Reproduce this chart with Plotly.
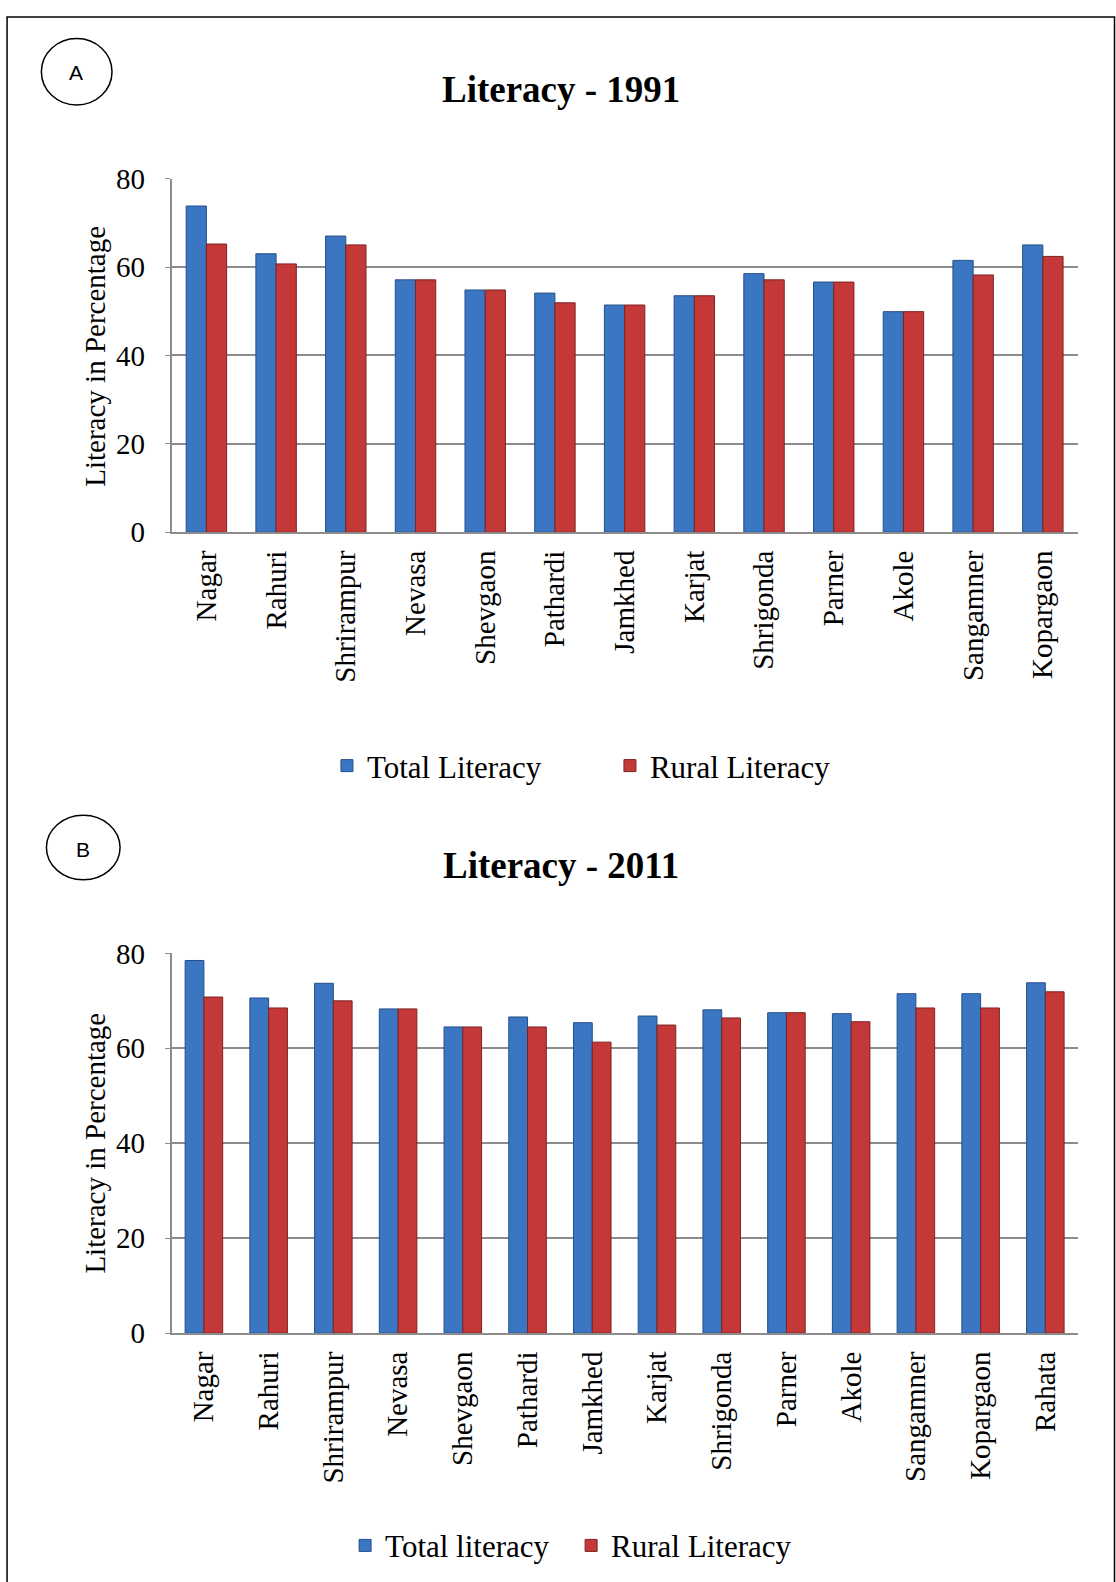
import plotly.graph_objects as go

W, H = 1116, 1582

# ---- data ----
blocks_1991 = ["Nagar", "Rahuri", "Shrirampur", "Nevasa", "Shevgaon", "Pathardi", "Jamkhed",
               "Karjat", "Shrigonda", "Parner", "Akole", "Sangamner", "Kopargaon"]
total_1991 = [73.8, 63.0, 67.0, 57.1, 54.8, 54.1, 51.4, 53.5, 58.5, 56.6, 49.9, 61.5, 65.0]
rural_1991 = [65.2, 60.7, 65.0, 57.1, 54.8, 51.9, 51.4, 53.5, 57.1, 56.6, 49.9, 58.2, 62.4]

blocks_2011 = ["Nagar", "Rahuri", "Shrirampur", "Nevasa", "Shevgaon", "Pathardi", "Jamkhed",
               "Karjat", "Shrigonda", "Parner", "Akole", "Sangamner", "Kopargaon", "Rahata"]
total_2011 = [78.5, 70.6, 73.7, 68.3, 64.5, 66.6, 65.4, 66.8, 68.1, 67.5, 67.3, 71.5, 71.5, 73.8]
rural_2011 = [70.8, 68.5, 70.0, 68.3, 64.5, 64.5, 61.3, 64.9, 66.4, 67.5, 65.6, 68.5, 68.5, 71.9]

y_ticks = [0, 20, 40, 60, 80]

BLUE, BLUE_EDGE = "#3a76c2", "#264f88"
RED, RED_EDGE = "#c43838", "#7e2222"
SERIF = "Liberation Serif, Times New Roman, serif"
SANS = "Liberation Sans, Arial, sans-serif"

# calibration between layout pixels and the photographed page
KX, KY, OY = 0.991, 0.9725, 14.6


def fx(p):
    """paper x fraction for a target pixel x"""
    return (p / KX) / W


def fy(p):
    """paper y fraction for a target pixel y (from top)"""
    return 1 - ((p - OY) / KY) / H


fig = go.Figure()

fig.add_trace(go.Bar(x=blocks_1991, y=total_1991, name="Total Literacy",
                     marker=dict(color=BLUE, line=dict(color=BLUE_EDGE, width=1)),
                     xaxis="x", yaxis="y", legend="legend"))
fig.add_trace(go.Bar(x=blocks_1991, y=rural_1991, name="Rural Literacy",
                     marker=dict(color=RED, line=dict(color=RED_EDGE, width=1)),
                     xaxis="x", yaxis="y", legend="legend"))
fig.add_trace(go.Bar(x=blocks_2011, y=total_2011, name="Total literacy",
                     marker=dict(color=BLUE, line=dict(color=BLUE_EDGE, width=1)),
                     xaxis="x2", yaxis="y2", legend="legend2"))
fig.add_trace(go.Bar(x=blocks_2011, y=rural_2011, name="Rural Literacy",
                     marker=dict(color=RED, line=dict(color=RED_EDGE, width=1)),
                     xaxis="x2", yaxis="y2", legend="legend2"))

xdom = [fx(170), fx(1068)]

axis_common_y = dict(range=[0, 80], tickvals=y_ticks, showgrid=True, gridcolor="#8c8c8c",
                     gridwidth=1.5, showline=True, linecolor="#8c8c8c", linewidth=1.5,
                     ticks="outside", ticklen=5, tickcolor="#8c8c8c",
                     tickfont=dict(family=SERIF, size=29, color="black"),
                     ticklabelstandoff=14, zeroline=False)
axis_common_x = dict(domain=xdom, showline=True, linecolor="#8c8c8c", linewidth=1.5,
                     tickangle=-90, ticks="", ticklabelstandoff=5,
                     tickfont=dict(family=SERIF, size=29, color="black"))

fig.update_layout(
    width=W, height=H, autosize=False,
    margin=dict(l=0, r=0, t=0, b=0, pad=0),
    paper_bgcolor="white", plot_bgcolor="white",
    barmode="group", bargap=0.42, bargroupgap=0,
    xaxis=dict(anchor="y", **axis_common_x),
    yaxis=dict(domain=[fy(527), fy(176)], anchor="x", **axis_common_y),
    xaxis2=dict(anchor="y2", **axis_common_x),
    yaxis2=dict(domain=[fy(1322), fy(945)], anchor="x2", **axis_common_y),
    legend=dict(orientation="h", x=fx(324), xanchor="left", y=fy(759), yanchor="middle",
                font=dict(family=SERIF, size=31, color="black"), entrywidth=238,
                itemwidth=30, bgcolor="rgba(0,0,0,0)"),
    legend2=dict(orientation="h", x=fx(342), xanchor="left", y=fy(1533), yanchor="middle",
                 font=dict(family=SERIF, size=31, color="black"), entrywidth=181,
                 itemwidth=30, bgcolor="rgba(0,0,0,0)"),
    showlegend=True,
)

annotations = [
    dict(text="<b>Literacy - 1991</b>", x=fx(556), y=fy(88), xref="paper", yref="paper",
         showarrow=False, font=dict(family=SERIF, size=37, color="black"),
         xanchor="center", yanchor="middle"),
    dict(text="<b>Literacy - 2011</b>", x=fx(556), y=fy(858), xref="paper", yref="paper",
         showarrow=False, font=dict(family=SERIF, size=37, color="black"),
         xanchor="center", yanchor="middle"),
    dict(text="Literacy in Percentage", x=fx(94), y=fy(352), xref="paper", yref="paper",
         showarrow=False, textangle=-90, font=dict(family=SERIF, size=29, color="black"),
         xanchor="center", yanchor="middle"),
    dict(text="Literacy in Percentage", x=fx(94), y=fy(1133), xref="paper", yref="paper",
         showarrow=False, textangle=-90, font=dict(family=SERIF, size=29, color="black"),
         xanchor="center", yanchor="middle"),
    dict(text="A", x=fx(75), y=fy(71), xref="paper", yref="paper", showarrow=False,
         font=dict(family=SANS, size=21, color="black"), xanchor="center", yanchor="middle"),
    dict(text="B", x=fx(82), y=fy(842), xref="paper", yref="paper", showarrow=False,
         font=dict(family=SANS, size=21, color="black"), xanchor="center", yanchor="middle"),
]
fig.update_layout(annotations=annotations)

shapes = [
    dict(type="rect", xref="paper", yref="paper", x0=fx(7), y0=-0.05, x1=1 - 1.5 / W,
         y1=1 - 1.0 / H, line=dict(color="black", width=1.5), fillcolor="rgba(0,0,0,0)"),
    dict(type="circle", xref="paper", yref="paper", x0=fx(41), y0=fy(103), x1=fx(111),
         y1=fy(37), line=dict(color="black", width=1.5)),
    dict(type="circle", xref="paper", yref="paper", x0=fx(46), y0=fy(872), x1=fx(119),
         y1=fy(808), line=dict(color="black", width=1.5)),
]
fig.update_layout(shapes=shapes)

fig.write_html(
    "out.html",
    config={"displayModeBar": False},
    post_script="document.body.style.margin='0';document.body.style.padding='0';"
                "document.body.style.overflow='hidden';",
)
